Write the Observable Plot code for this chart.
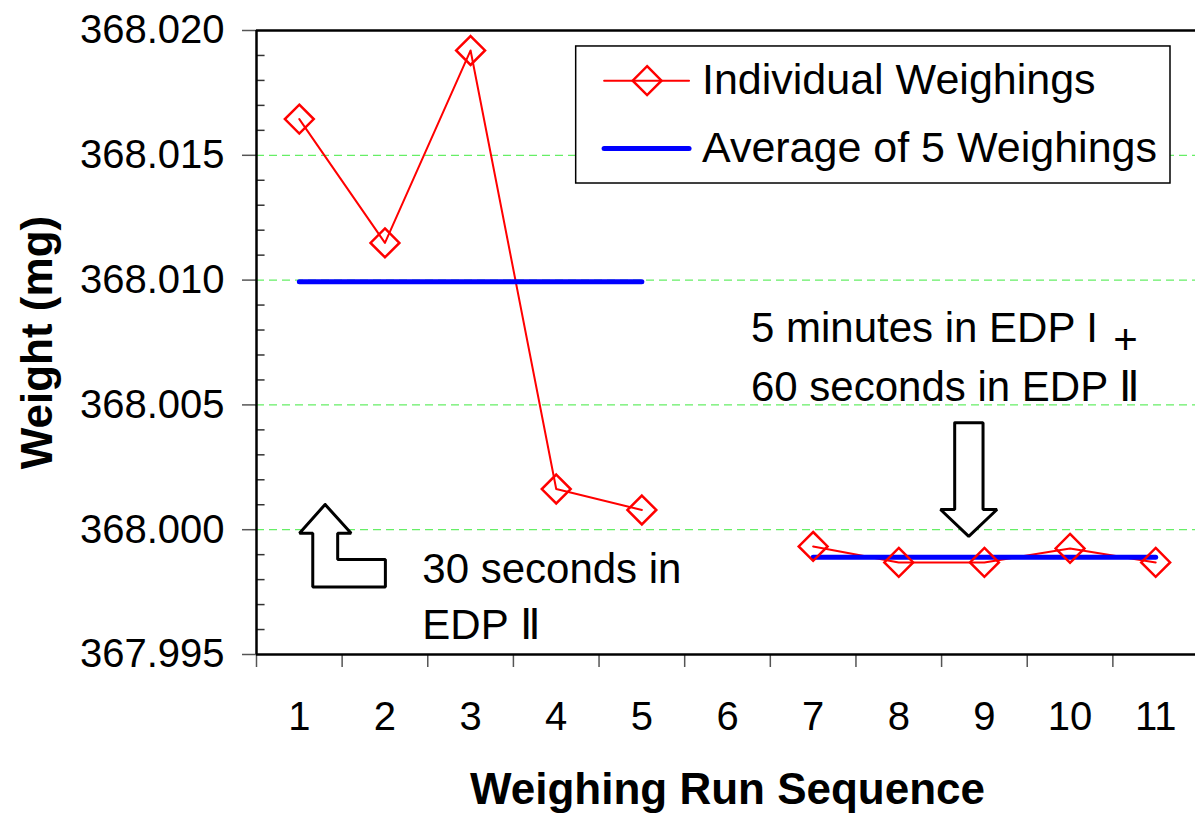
<!DOCTYPE html>
<html>
<head>
<meta charset="utf-8">
<script src="https://cdn.jsdelivr.net/npm/d3@7"></script>
<script src="https://cdn.jsdelivr.net/npm/@observablehq/plot@0.6"></script>
<style>
  html, body { margin: 0; padding: 0; background: #fff; overflow: hidden; }
  #chart svg { display: block; }
</style>
</head>
<body>
<div id="chart"></div>
<script>
// ---- data ----
const runs = [1, 2, 3, 4, 5, 7, 8, 9, 10, 11];
const weights = [368.01645, 368.01149, 368.0192, 368.00163, 368.00079, 367.99933, 367.99869, 367.99869, 367.99925, 367.99869];
const groups = ["A", "A", "A", "A", "A", "B", "B", "B", "B", "B"];

const avgRuns = [1, 5, 7, 11];
const avgValues = [368.00993, 368.00993, 367.99890, 367.99890];
const avgGroups = ["A", "A", "B", "B"];

const xTickLabels = [1, 2, 3, 4, 5, 6, 7, 8, 9, 10, 11];
const xBoundaries = [0.5, 1.5, 2.5, 3.5, 4.5, 5.5, 6.5, 7.5, 8.5, 9.5, 10.5, 11.5];
const yMajor = [367.995, 368.000, 368.005, 368.010, 368.015, 368.020];
const yGrid = [368.000, 368.005, 368.010, 368.015];
const yMinor = [367.996, 367.997, 367.998, 367.999, 368.001, 368.002, 368.003, 368.004,
                368.006, 368.007, 368.008, 368.009, 368.011, 368.012, 368.013, 368.014,
                368.016, 368.017, 368.018, 368.019];

const xLabel = "Weighing Run Sequence";
const yLabel = "Weight (mg)";
const seriesNames = ["Individual Weighings", "Average of 5 Weighings"];

// annotation shapes (data units)
const upArrowX = [1.301, 1.605, 1.448, 1.448, 2.005, 2.005, 1.157, 1.157, 1.002, 1.301];
const upArrowY = [368.00101, 367.99986, 367.99986, 367.99881, 367.99881, 367.99770, 367.99770, 367.99986, 367.99986, 368.00101];
const downArrowX = [8.653, 8.984, 8.984, 9.147, 8.817, 8.487, 8.653, 8.653];
const downArrowY = [368.00428, 368.00428, 368.00081, 368.00081, 367.99973, 368.00081, 368.00081, 368.00428];

const noteTexts = ["30 seconds in", "EDP \u2161", "5 minutes in EDP I", "60 seconds in EDP \u2161"];
const noteX = [2.436, 2.436, 6.274, 6.274];
const noteY = [367.99842, 367.99618, 368.00804, 368.00571];
const plusNote = {text: "+", x: 10.648, y: 368.00756};

// legend placement (data units)
const legendBox = {x1: 4.233, x2: 11.173, y1: 368.01387, y2: 368.01936};
const legendRows = [368.01799, 368.01527];
const legendLineX = [4.559, 5.551];
const legendSymbolX = 5.061;
const legendTextX = 5.702;

// ---- derived tables ----
const points = runs.map((r, i) => ({run: r, w: weights[i], g: groups[i]}));
const avg = avgRuns.map((r, i) => ({run: r, w: avgValues[i], g: avgGroups[i]}));
const upArrow = upArrowX.map((x, i) => ({x, y: upArrowY[i]}));
const downArrow = downArrowX.map((x, i) => ({x, y: downArrowY[i]}));
const notes = noteTexts.map((t, i) => ({t, x: noteX[i], y: noteY[i]}));

const font = "'Liberation Sans', Arial, Helvetica, sans-serif";
const red = "#ff0000";
const blue = "#0000ff";

const chart = Plot.plot({
  width: 1198,
  height: 817,
  marginLeft: 256,
  marginRight: 0,
  marginTop: 30,
  marginBottom: 163,
  style: {fontFamily: font, background: "#fff", color: "#000", overflow: "visible", maxWidth: "none"},
  x: {domain: [0.5, 11.5], axis: null},
  y: {domain: [367.995, 368.020], axis: null},
  marks: [
    Plot.gridY(yGrid, {stroke: "#66ee66", strokeOpacity: 1, strokeWidth: 1.3, strokeDasharray: "8,5"}),
    Plot.ruleY(yMinor, {x1: 0.5, x2: 0.6, stroke: "#333", strokeWidth: 1.5}),
    Plot.axisY(yMajor, {anchor: "left", tickSize: 14, tickPadding: 18, tickFormat: d3.format(".3f"),
      fontSize: 40, stroke: "#555", strokeWidth: 1.5, label: null}),
    Plot.ruleX(xBoundaries, {y1: 367.995, y2: 367.99448, stroke: "#555", strokeWidth: 1.5}),
    Plot.axisX(xTickLabels, {anchor: "bottom", tickSize: 0, tickPadding: 47, fontSize: 40, label: null, tickFormat: d => String(d)}),
    Plot.ruleX([0.5], {stroke: "#000", strokeWidth: 2.5}),
    Plot.ruleY([367.995, 368.020], {stroke: "#000", strokeWidth: 2.5}),
    Plot.text([xLabel], {frameAnchor: "bottom", dy: 149, fontSize: 44, fontWeight: "bold"}),
    Plot.text([yLabel], {x: 0.5, y: 368.0075, dx: -219, rotate: -90, fontSize: 44, fontWeight: "bold"}),
    // arrows
    Plot.line(upArrow, {x: "x", y: "y", stroke: "#000", strokeWidth: 3, fill: "#fff", strokeLinejoin: "miter", curve: "linear"}),
    Plot.line(downArrow, {x: "x", y: "y", stroke: "#000", strokeWidth: 3, fill: "#fff", strokeLinejoin: "miter", curve: "linear"}),
    // series
    Plot.line(points, {x: "run", y: "w", z: "g", stroke: red, strokeWidth: 2}),
    Plot.line(avg, {x: "run", y: "w", z: "g", stroke: blue, strokeWidth: 5, strokeLinecap: "round"}),
    Plot.dot(points, {x: "run", y: "w", symbol: "diamond2", r: 13, stroke: red, strokeWidth: 2.5, fill: "none"}),
    // annotations
    Plot.text(notes, {x: "x", y: "y", text: "t", textAnchor: "start", fontSize: 42}),
    Plot.text([plusNote], {x: "x", y: "y", text: "text", textAnchor: "middle", fontSize: 42}),
    // legend
    Plot.rect([legendBox], {x1: "x1", x2: "x2", y1: "y1", y2: "y2", fill: "#fff", stroke: "#000", strokeWidth: 1.5}),
    Plot.line(legendLineX.map(x => ({x, y: legendRows[0]})), {x: "x", y: "y", stroke: red, strokeWidth: 2}),
    Plot.dot([{x: legendSymbolX, y: legendRows[0]}], {x: "x", y: "y", symbol: "diamond2", r: 13, stroke: red, strokeWidth: 2.5, fill: "none"}),
    Plot.line(legendLineX.map(x => ({x, y: legendRows[1]})), {x: "x", y: "y", stroke: blue, strokeWidth: 5, strokeLinecap: "round"}),
    Plot.text(seriesNames.map((t, i) => ({t, y: legendRows[i]})), {x: legendTextX, y: "y", text: "t", textAnchor: "start", fontSize: 43})
  ]
});

document.getElementById("chart").appendChild(chart);
</script>
</body>
</html>
